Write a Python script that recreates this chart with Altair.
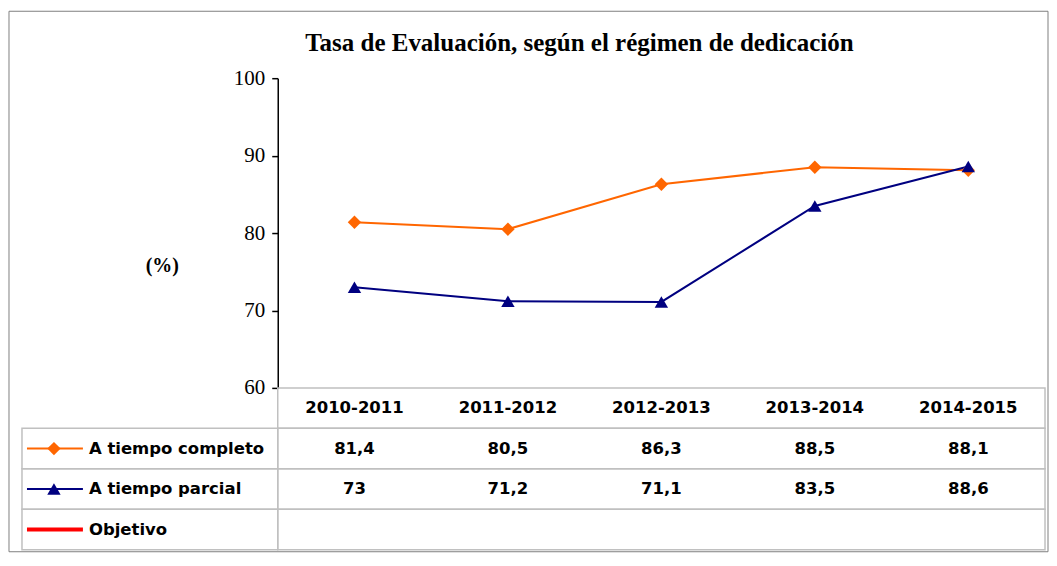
import altair as alt
import pandas as pd

cursos = ["2010-2011", "2011-2012", "2012-2013", "2013-2014", "2014-2015"]
completo = [81.4, 80.5, 86.3, 88.5, 88.1]
parcial = [73, 71.2, 71.1, 83.5, 88.6]
series = ["A tiempo completo", "A tiempo parcial", "Objetivo"]
colores = ["#FF6600", "#000080", "#FF0000"]
formas = ["diamond", "triangle-up", "circle"]
cabecera = "Curso"
filas = [cabecera] + series
y_ticks = [60, 70, 80, 90, 100]

TABLE_FONT = "DejaVu Sans"
GRID = "#c0c0c0"


def fmt(v):
    return f"{v:g}".replace(".", ",")


rows = []
for s, vals in [(series[0], completo), (series[1], parcial)]:
    for c, v in zip(cursos, vals):
        rows.append({"curso": c, "serie": s, "valor": v, "texto": fmt(v)})
df = pd.DataFrame(rows)

df_series = pd.DataFrame({"serie": series})
df_series2 = pd.DataFrame({"serie": series[:2]})
df_obj = pd.DataFrame({"serie": series[2:]})
df_header = pd.DataFrame({"curso": cursos, "fila": [cabecera] * len(cursos)})
df_head_row = pd.DataFrame({"fila": [cabecera]})
df_one = pd.DataFrame({"k": [0]})

x_enc = alt.X("curso:N", scale=alt.Scale(type="point", domain=cursos, padding=0.5), axis=None)
color_scale = alt.Scale(domain=series, range=colores)
shape_scale = alt.Scale(domain=series, range=formas)
row_scale = alt.Scale(type="band", domain=filas, range=[310, 472], paddingInner=0, paddingOuter=0)

frame = alt.Chart(df_one).mark_rect(filled=False, stroke="#808080", strokeWidth=1).encode(
    x=alt.value(-269), x2=alt.value(771), y=alt.value(-67), y2=alt.value(474)
)

lines = alt.Chart(df).mark_line(strokeWidth=2).encode(
    x=x_enc,
    y=alt.Y(
        "valor:Q",
        scale=alt.Scale(domain=[60, 100], nice=False, zero=False),
        axis=alt.Axis(
            values=y_ticks,
            title="(%)",
            titleAngle=0,
            titleX=-116,
            titleY=187,
            titleAlign="center",
            titleBaseline="middle",
            titleFont="Liberation Serif",
            titleFontSize=20,
            titleFontWeight="bold",
            titleColor="black",
            labelFont="Liberation Serif",
            labelFontSize=21,
            labelColor="black",
            labelPadding=7,
            tickSize=6,
            tickColor="black",
            tickWidth=1.5,
            domainColor="black",
            domainWidth=1.5,
            gridColor=GRID,
            gridWidth=1.5,
        ),
    ),
    color=alt.Color("serie:N", scale=color_scale, legend=None),
    detail="serie:N",
)

points = alt.Chart(df).mark_point(filled=True, size=180, opacity=1).encode(
    x=x_enc,
    y=alt.Y("valor:Q", scale=alt.Scale(domain=[60, 100], nice=False, zero=False), axis=None),
    color=alt.Color("serie:N", scale=color_scale, legend=None),
    shape=alt.Shape("serie:N", scale=shape_scale, legend=None),
)

y_row = alt.Y("fila:N", scale=row_scale, axis=None)
y_row_s = alt.Y("serie:N", scale=row_scale, axis=None)

head_rect = alt.Chart(df_head_row).mark_rect(filled=False, stroke=GRID, strokeWidth=1.5).encode(
    x=alt.value(0), x2=alt.value("width"), y=y_row
)
label_rects = alt.Chart(df_series).mark_rect(filled=False, stroke=GRID, strokeWidth=1.5).encode(
    x=alt.value(-256), x2=alt.value(0), y=y_row_s
)
value_rects = alt.Chart(df_series).mark_rect(filled=False, stroke=GRID, strokeWidth=1.5).encode(
    x=alt.value(0), x2=alt.value("width"), y=y_row_s
)

head_text = alt.Chart(df_header).mark_text(
    font=TABLE_FONT, fontSize=16.5, fontWeight="bold", color="black", align="center", baseline="middle"
).encode(x=x_enc, y=y_row, text="curso:N")

value_text = alt.Chart(df).mark_text(
    font=TABLE_FONT, fontSize=16.5, fontWeight="bold", color="black", align="center", baseline="middle"
).encode(x=x_enc, y=y_row_s, text="texto:N")

row_labels = alt.Chart(df_series).mark_text(
    font=TABLE_FONT, fontSize=16.5, fontWeight="bold", color="black", align="left", baseline="middle"
).encode(x=alt.value(-189), y=y_row_s, text="serie:N")

legend_lines = alt.Chart(df_series2).mark_rule(strokeWidth=2).encode(
    x=alt.value(-251),
    x2=alt.value(-195),
    y=y_row_s,
    color=alt.Color("serie:N", scale=color_scale, legend=None),
)

legend_obj = alt.Chart(df_obj).mark_rule(strokeWidth=4).encode(
    x=alt.value(-251),
    x2=alt.value(-195),
    y=y_row_s,
    color=alt.Color("serie:N", scale=color_scale, legend=None),
)

legend_marks = alt.Chart(df_series2).mark_point(filled=True, size=180, opacity=1).encode(
    x=alt.value(-224),
    y=y_row_s,
    color=alt.Color("serie:N", scale=color_scale, legend=None),
    shape=alt.Shape("serie:N", scale=shape_scale, legend=None),
)

chart = (
    alt.layer(
        frame, head_rect, label_rects, value_rects, lines, points,
        head_text, value_text, row_labels, legend_lines, legend_obj, legend_marks,
    )
    .resolve_scale(y="independent")
    .properties(
        width=768,
        height=310,
        padding={"left": 0, "top": 2, "right": 0, "bottom": 0},
        title=alt.TitleParams(
            "Tasa de Evaluación, según el régimen de dedicación",
            font="Liberation Serif",
            fontSize=25,
            fontWeight="bold",
            color="black",
            anchor="middle",
            dx=-82,
            offset=-45,
        ),
    )
    .configure_view(stroke=None)
)

chart.save("out.html", embed_options={"renderer": "svg", "actions": False})
